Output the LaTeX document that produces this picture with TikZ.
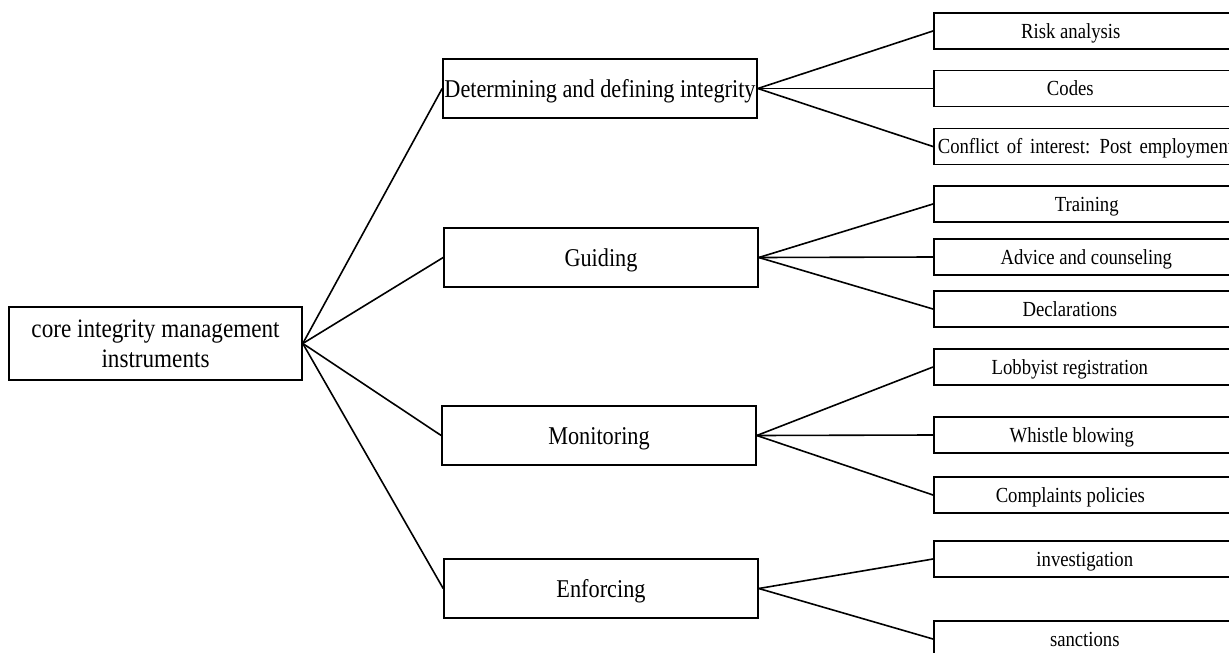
\documentclass[tikz,border=0pt]{standalone}
\usepackage{fontspec}
\setmainfont{Liberation Serif}[FakeStretch=0.87]

% leaf label: text centred in a field of width #1, padded to the full box width
\newcommand\leaftext[2][274]{\makebox[#1pt]{#2}\rule{\dimexpr307pt-#1pt\relax}{0pt}}

\begin{document}
\begin{tikzpicture}[x=1pt,y=-1pt,
  box/.style={draw, line width=1.6pt, inner sep=0pt},
  rootbox/.style={box, minimum width=293pt, minimum height=73pt, align=center,
    font=\fontsize{26.6}{30}\selectfont},
  stage/.style={box, minimum width=314pt, minimum height=59pt,
    text height=17pt, text depth=0pt, font=\fontsize{25.6}{30}\selectfont},
  leaf/.style={box, anchor=west, minimum width=307pt, minimum height=36pt,
    text height=14.2pt, text depth=0pt, font=\fontsize{21.5}{25}\selectfont},
  link/.style={line width=1.6pt}
]
\useasboundingbox (0,0) rectangle (1229,653);
\clip (0,0) rectangle (1229,653);

% root
\node[rootbox] (core) at (155.5,343.5) {core integrity management\\instruments};

% stages
\node[stage] (def) at (600,88.5)  {Determining and defining integrity};
\node[stage] (gui) at (601,257.5) {Guiding};
\node[stage] (mon) at (599,435.5) {Monitoring};
\node[stage] (enf) at (601,588.5) {Enforcing};

% instruments
\node[leaf] (risk)    at (933,31)    {\leaftext[274]{Risk analysis}};
\node[leaf] (codes)   at (933,88.5)  {\leaftext[273]{Codes}};
\node[leaf] (conf)    at (933,146.5) {\makebox[307pt][l]{\spaceskip=7.7pt\hspace*{4pt}Conflict of interest: Post employment}};
\node[leaf] (train)   at (933,204)   {\leaftext[306]{Training}};
\node[leaf] (adv)     at (933,257)   {\leaftext[305]{Advice and counseling}};
\node[leaf] (decl)    at (933,309)   {\leaftext[272]{Declarations}};
\node[leaf] (lobby)   at (933,367)   {\leaftext[272]{Lobbyist registration}};
\node[leaf] (whistle) at (933,435)   {\leaftext[276]{Whistle blowing}};
\node[leaf] (compl)   at (933,495)   {\leaftext[273]{Complaints policies}};
\node[leaf] (inv)     at (933,559)   {\leaftext[302]{investigation}};
\node[leaf] (sanc)    at (933,639)   {\leaftext[302]{sanctions}};

% root to stages
\foreach \s in {def,gui,mon,enf}
  \draw[link] (core.east) -- (\s.west);

% stages to instruments
\foreach \l in {risk,codes,conf}    \draw[link] (def.east) -- (\l.west);
\foreach \l in {train,adv,decl}     \draw[link] (gui.east) -- (\l.west);
\foreach \l in {lobby,whistle,compl}\draw[link] (mon.east) -- (\l.west);
\foreach \l in {inv,sanc}           \draw[link] (enf.east) -- (\l.west);
\end{tikzpicture}
\end{document}
